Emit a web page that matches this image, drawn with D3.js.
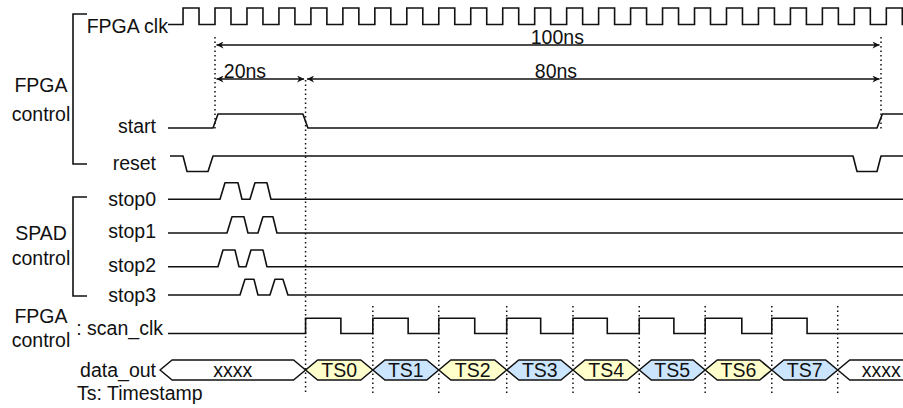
<!DOCTYPE html>
<html lang="en">
<head>
<meta charset="utf-8">
<title>FPGA / SPAD timing</title>
<style>
	html, body { margin: 0; background: #fff; }
	svg { display: block; font-family: "Liberation Sans", Arial, Helvetica, sans-serif; }
</style>
</head>
<body>
<script src="https://cdn.jsdelivr.net/npm/d3@7"></script>
<script>
// all times are in ns along the drawing (0 = start rising edge, 100 = next start edge)
const clkRise = [-4.8, 0, 4.8, 9.6, 14.4, 19.2, 24, 28.8, 33.6, 38.4, 43.2, 48, 52.8,
	57.6, 62.4, 67.2, 72, 76.8, 81.6, 86.4, 91.2, 96, 100.8]
const clkHigh = 2.4

// slow signals: initial level + list of [edge start, edge end]
const waves = [
	{ name: 'start', init: 0, edges: [[-0.3, 0.45], [13.2, 13.95], [99.4, 100.2]] },
	{ name: 'reset', init: 1, edges: [[-4.8, -4.2], [-1.05, -0.3], [95.8, 96.4], [99.4, 100]] },
	{ name: 'stop0', init: 0, edges: [[0.75, 1.5], [3.45, 4.05], [5.25, 6], [7.8, 8.4]] },
	{ name: 'stop1', init: 0, edges: [[1.8, 2.55], [4.35, 4.95], [6.45, 7.2], [8.7, 9.3]] },
	{ name: 'stop2', init: 0, edges: [[0.45, 1.2], [3, 3.6], [4.65, 5.4], [7.2, 7.8]] },
	{ name: 'stop3', init: 0, edges: [[3.75, 4.5], [5.85, 6.45], [8.25, 9], [10.2, 10.95]] }
]

const scanRise = [13.6, 23.7, 33.6, 43.8, 53.75, 63.7, 73.6, 83.6]
const scanFall = [18.9, 29, 39, 48.9, 58.9, 68.9, 79.1, 88.9]

const busLabels = ['xxxx', 'TS0', 'TS1', 'TS2', 'TS3', 'TS4', 'TS5', 'TS6', 'TS7', 'xxxx']
const busBounds = [-8.25, 13.6, 23.7, 33.6, 43.8, 53.75, 63.7, 73.6, 83.6, 93.5, 106.6]

const spans = [
	{ from: 0, to: 100, label: '100ns', at: 51.4, row: 'long' },
	{ from: 0, to: 13.6, label: '20ns', at: 4.5, row: 'short' },
	{ from: 13.6, to: 100, label: '80ns', at: 51.2, row: 'short' }
]

const guidesTop = [0, 100]
const guidesFull = [13.6]
const guidesScan = [23.7, 33.6, 43.8, 53.75, 63.7, 73.6, 83.6, 93.5]

const groups = [
	{ lines: ['FPGA', 'control'], bracket: [14, 164] },
	{ lines: ['SPAD', 'control'], bracket: [197, 296] },
	{ lines: ['FPGA', 'control'], bracket: null }
]

// layout
const W = 903, H = 408
const ink = '#111'
const sw = 1.6
const fs = 19.5
const tBegin = -7.06, tEnd = 103.4
const rows = {
	clk: { hi: 8, lo: 24.5 },
	start: { hi: 114, lo: 128, base: 133 },
	reset: { hi: 156, lo: 171.5, base: 170 },
	stop0: { hi: 182.7, lo: 199.3, base: 206 },
	stop1: { hi: 216.7, lo: 233, base: 238 },
	stop2: { hi: 250, lo: 266.7, base: 272 },
	stop3: { hi: 279.3, lo: 295, base: 302 },
	scan: { hi: 318.3, lo: 333.5, base: 335 },
	bus: { cy: 370, h: 10, slope: 12, base: 377 }
}
const spanY = { long: 45, short: 79 }
const groupText = [[92, 121], [240, 265], [323, 347]]
const busFill = (label, i) => label === 'xxxx' ? '#fff' : (i % 2 ? '#ffffcc' : '#cce5ff')

const x = d3.scaleLinear().domain([0, 100]).range([215, 881])

const svg = d3.select('body').append('svg')
	.attr('width', W)
	.attr('height', H)
	.attr('viewBox', [0, 0, W, H])
	.attr('font-size', fs)
	.attr('fill', ink)

const defs = svg.append('defs')
defs.append('marker')
	.attr('id', 'head')
	.attr('viewBox', '0 0 10 10')
	.attr('refX', 10)
	.attr('refY', 5)
	.attr('markerWidth', 9)
	.attr('markerHeight', 7)
	.attr('markerUnits', 'userSpaceOnUse')
	.attr('orient', 'auto-start-reverse')
	.append('path')
	.attr('d', 'M0,0 L10,5 L0,10 L3,5 Z')
	.attr('fill', ink)

const line = d3.line()

// dotted guides
const dotted = svg.append('g')
	.attr('stroke', ink)
	.attr('stroke-width', 1.5)
	.attr('stroke-dasharray', '1.5,3')
dotted.selectAll('.gt').data(guidesTop).join('line')
	.attr('x1', d => x(d)).attr('x2', d => x(d))
	.attr('y1', 37).attr('y2', 131)
dotted.selectAll('.gf').data(guidesFull).join('line')
	.attr('x1', d => x(d)).attr('x2', d => x(d))
	.attr('y1', 80).attr('y2', 394)
dotted.selectAll('.gs').data(guidesScan).join('line')
	.attr('x1', d => x(d)).attr('x2', d => x(d))
	.attr('y1', 306).attr('y2', 396)

// time span arrows
const sp = svg.append('g').selectAll('g').data(spans).join('g')
sp.append('line')
	.attr('x1', d => x(d.from) + 1.5)
	.attr('x2', d => x(d.to) - 1.5)
	.attr('y1', d => spanY[d.row])
	.attr('y2', d => spanY[d.row])
	.attr('stroke', ink)
	.attr('stroke-width', sw)
	.attr('marker-start', 'url(#head)')
	.attr('marker-end', 'url(#head)')
sp.append('text')
	.attr('x', d => x(d.at))
	.attr('y', d => spanY[d.row] - 1)
	.attr('text-anchor', 'middle')
	.text(d => d.label)

// FPGA clk
const clkPts = [[x(tBegin), rows.clk.lo]]
clkRise.forEach(r => {
	clkPts.push([x(r), rows.clk.lo], [x(r), rows.clk.hi],
		[x(r + clkHigh), rows.clk.hi], [x(r + clkHigh), rows.clk.lo])
})
clkPts.push([x(tEnd), rows.clk.lo])
svg.append('path')
	.attr('d', line(clkPts))
	.attr('fill', 'none')
	.attr('stroke', ink)
	.attr('stroke-width', sw)
svg.append('text')
	.attr('x', x(tBegin))
	.attr('y', 33)
	.attr('text-anchor', 'end')
	.text('FPGA clk')

// slow signals
const wavePts = d => {
	const r = rows[d.name]
	const lvl = v => v ? r.hi : r.lo
	let cur = d.init
	const pts = [[x(d.name === 'reset' ? tBegin + 0.3 : tBegin), lvl(cur)]]
	d.edges.forEach(([a, b]) => {
		pts.push([x(a), lvl(cur)])
		cur = 1 - cur
		pts.push([x(b), lvl(cur)])
	})
	pts.push([x(tEnd), lvl(cur)])
	return pts
}
const wg = svg.append('g').selectAll('g').data(waves).join('g')
wg.append('path')
	.attr('d', d => line(wavePts(d)))
	.attr('fill', 'none')
	.attr('stroke', ink)
	.attr('stroke-width', sw)
	.attr('stroke-linejoin', 'round')
wg.append('text')
	.attr('x', 156)
	.attr('y', d => rows[d.name].base)
	.attr('text-anchor', 'end')
	.text(d => d.name)

// scan_clk
const scanPts = [[x(tBegin), rows.scan.lo]]
scanRise.forEach((r, i) => {
	scanPts.push([x(r), rows.scan.lo], [x(r), rows.scan.hi],
		[x(scanFall[i]), rows.scan.hi], [x(scanFall[i]), rows.scan.lo])
})
scanPts.push([x(tEnd), rows.scan.lo])
svg.append('path')
	.attr('d', line(scanPts))
	.attr('fill', 'none')
	.attr('stroke', ink)
	.attr('stroke-width', sw)
svg.append('text')
	.attr('x', x(tBegin) - 5)
	.attr('y', rows.scan.base)
	.attr('text-anchor', 'end')
	.text(': scan_clk')

// data_out bus
const b = rows.bus
const segs = busLabels.map((label, i) => ({ label, i, a: busBounds[i], b: busBounds[i + 1] }))
const bg = svg.append('g').selectAll('g').data(segs).join('g')
bg.append('path')
	.attr('d', d => {
		const x0 = x(d.a), x1 = x(d.b)
		return line([[x0, b.cy], [x0 + b.slope, b.cy - b.h], [x1 - b.slope, b.cy - b.h],
			[x1, b.cy], [x1 - b.slope, b.cy + b.h], [x0 + b.slope, b.cy + b.h]]) + 'Z'
	})
	.attr('fill', d => busFill(d.label, d.i))
	.attr('stroke', ink)
	.attr('stroke-width', sw)
	.attr('stroke-linejoin', 'round')
bg.append('text')
	.attr('x', d => (x(d.a) + x(d.b)) / 2)
	.attr('y', b.base)
	.attr('text-anchor', 'middle')
	.text(d => d.label)
svg.append('text')
	.attr('x', 156)
	.attr('y', b.base)
	.attr('text-anchor', 'end')
	.text('data_out')
svg.append('text')
	.attr('x', 77)
	.attr('y', 400)
	.text('Ts: Timestamp')

// group brackets and names
const gg = svg.append('g').selectAll('g').data(groups).join('g')
gg.filter(d => d.bracket).append('path')
	.attr('d', d => `M87,${d.bracket[0]} H73 V${d.bracket[1]} H87`)
	.attr('fill', 'none')
	.attr('stroke', ink)
	.attr('stroke-width', sw)
gg.each(function (d, i) {
	d3.select(this).selectAll('text').data(d.lines).join('text')
		.attr('x', 41)
		.attr('y', (t, j) => groupText[i][j])
		.attr('text-anchor', 'middle')
		.text(t => t)
})
</script>
</body>
</html>
